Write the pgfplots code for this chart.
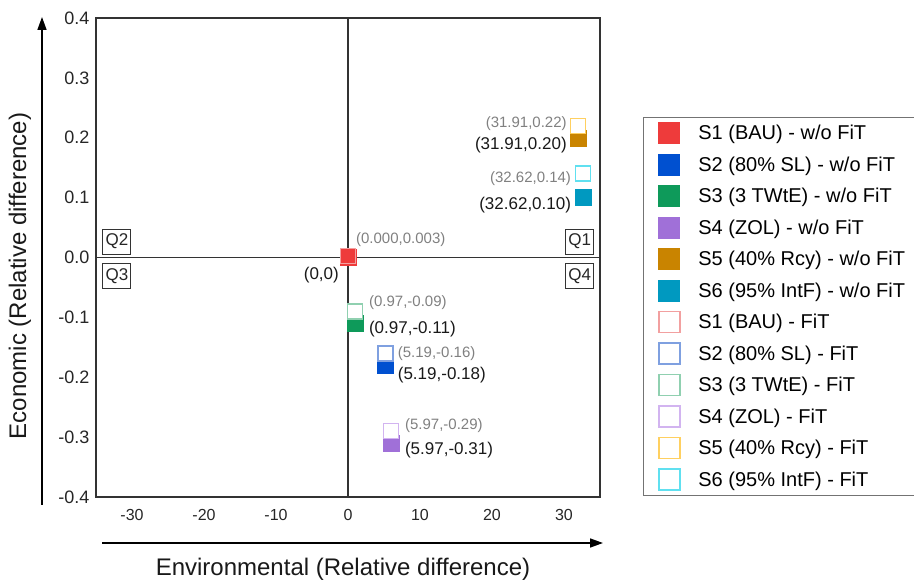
\documentclass[border=0pt]{standalone}
\usepackage{fontspec}
\setmainfont{Liberation Sans}
\usepackage{pgfplots}
\pgfplotsset{compat=1.18}
\usetikzlibrary{arrows.meta}
\definecolor{s1}{HTML}{EE3B3B}\definecolor{s1l}{HTML}{F2A0A0}
\definecolor{s2}{HTML}{0050D0}\definecolor{s2l}{HTML}{7FA0E0}
\definecolor{s3}{HTML}{0E9A5A}\definecolor{s3l}{HTML}{90D0B0}
\definecolor{s4}{HTML}{A070D8}\definecolor{s4l}{HTML}{D2B4F0}
\definecolor{s5}{HTML}{C98400}\definecolor{s5l}{HTML}{FFD060}
\definecolor{s6}{HTML}{0099C0}\definecolor{s6l}{HTML}{60E0F0}
\newcommand{\lgd}[1]{\makebox[260pt][l]{#1}}
\pgfplotsset{
  full/.style={only marks, mark=square*, mark size=8pt, color=#1, mark options={draw=#1, fill=#1}},
  open/.style={only marks, mark=square*, mark size=7.5pt, color=#1, mark options={draw=#1, fill=white, line width=1.4pt}},
}
\begin{document}
\begin{tikzpicture}[x=1pt,y=1pt]
\useasboundingbox (0,0) rectangle (914,579);
\begin{axis}[at={(96pt,82pt)}, anchor=south west, scale only axis,
  width=504pt, height=479pt,
  xmin=-35, xmax=35, ymin=-0.4, ymax=0.4,
  xtick={-30,-20,-10,0,10,20,30},
  ytick={-0.4,-0.3,-0.2,-0.1,0,0.1,0.2,0.3,0.4},
  yticklabel style={/pgf/number format/fixed, /pgf/number format/fixed zerofill, /pgf/number format/precision=1, xshift=-3pt, font=\fontsize{18}{20}\selectfont},
  /pgf/number format/assume math mode=true,
  major tick length=0pt,
  axis line style={line width=1.3pt, draw=black!80},
  tick label style={text=black!85},
  xticklabel style={yshift=-9pt, font=\fontsize{16}{18}\selectfont},
  legend cell align=left,
  legend style={at={(1.0853,0.7933)}, anchor=north west, draw=black!55, line width=0.8pt,
    font=\fontsize{20}{22}\selectfont, row sep=0pt, column sep=0pt, inner xsep=0pt, inner ysep=0pt,
    nodes={inner sep=0pt, minimum height=31.5pt}},
  legend image code/.code={\path[draw=none, fill=none] (0pt,-10pt) rectangle (55pt,10pt);\draw[#1, mark size=10.5pt] plot coordinates {(26pt,0pt)};},
  clip=false,
]
\draw[line width=1.3pt, black!80] (axis cs:0,-0.4) -- (axis cs:0,0.4);
\draw[line width=1.3pt, black!80] (axis cs:-35,0) -- (axis cs:35,0);
% w/o FiT
\addplot[full=s1] coordinates {(0,0)};
\addlegendentry{\lgd{S1 (BAU) - w/o FiT}}
\addplot[full=s2] coordinates {(5.19,-0.18)};
\addlegendentry{\lgd{S2 (80\% SL) - w/o FiT}}
\addplot[full=s3] coordinates {(0.97,-0.11)};
\addlegendentry{\lgd{S3 (3 TWtE) - w/o FiT}}
\addplot[full=s4] coordinates {(5.97,-0.31)};
\addlegendentry{\lgd{S4 (ZOL) - w/o FiT}}
\addplot[full=s5] coordinates {(31.91,0.20)};
\addlegendentry{\lgd{S5 (40\% Rcy) - w/o FiT}}
\addplot[full=s6] coordinates {(32.62,0.10)};
\addlegendentry{\lgd{S6 (95\% IntF) - w/o FiT}}
% FiT
\addplot[only marks, mark=square, mark size=7.5pt, color=s1l, mark options={draw=s1l, line width=1.4pt}] coordinates {(0,0.003)};
\addlegendentry{\lgd{S1 (BAU) - FiT}}
\addplot[open=s2l] coordinates {(5.19,-0.16)};
\addlegendentry{\lgd{S2 (80\% SL) - FiT}}
\addplot[open=s3l] coordinates {(0.97,-0.09)};
\addlegendentry{\lgd{S3 (3 TWtE) - FiT}}
\addplot[open=s4l] coordinates {(5.97,-0.29)};
\addlegendentry{\lgd{S4 (ZOL) - FiT}}
\addplot[open=s5l] coordinates {(31.91,0.22)};
\addlegendentry{\lgd{S5 (40\% Rcy) - FiT}}
\addplot[open=s6l] coordinates {(32.62,0.14)};
\addlegendentry{\lgd{S6 (95\% IntF) - FiT}}
% quadrant labels
\begin{scope}[every node/.style={draw=black!80, line width=0.9pt, font=\fontsize{17}{19}\selectfont, inner sep=0pt, minimum width=28pt, minimum height=25pt, text=black!85}]
\node at (axis cs:-32.1,0.0267) {Q2};
\node at (axis cs:-32.1,-0.031) {Q3};
\node at (axis cs:32.2,0.0267) {Q1};
\node at (axis cs:32.2,-0.031) {Q4};
\end{scope}
% data labels
\begin{scope}[every node/.style={font=\fontsize{15}{17}\selectfont, text=black!50, inner sep=0pt}]
\node[anchor=west] at (axis cs:1.1,0.030) {(0.000,0.003)};
\node[anchor=west] at (axis cs:2.9,-0.075) {(0.97,-0.09)};
\node[anchor=west] at (axis cs:6.9,-0.161) {(5.19,-0.16)};
\node[anchor=west] at (axis cs:7.9,-0.281) {(5.97,-0.29)};
\node[anchor=east] at (axis cs:30.4,0.224) {(31.91,0.22)};
\node[anchor=east] at (axis cs:31.0,0.132) {(32.62,0.14)};
\end{scope}
\begin{scope}[every node/.style={font=\fontsize{17}{19}\selectfont, text=black!90, inner sep=0pt}]
\node[anchor=east] at (axis cs:-1.25,-0.030) {(0,0)};
\node[anchor=west] at (axis cs:2.9,-0.119) {(0.97,-0.11)};
\node[anchor=west] at (axis cs:6.9,-0.197) {(5.19,-0.18)};
\node[anchor=west] at (axis cs:7.9,-0.322) {(5.97,-0.31)};
\node[anchor=east] at (axis cs:30.4,0.187) {(31.91,0.20)};
\node[anchor=east] at (axis cs:31.0,0.087) {(32.62,0.10)};
\end{scope}
\end{axis}
\draw[line width=1.6pt, -{Triangle[length=13pt,width=9pt]}] (42,74) -- (42,562);
\draw[line width=1.6pt, -{Triangle[length=13pt,width=9pt]}] (102,36) -- (603,36);
\node[rotate=90, font=\fontsize{24}{26}\selectfont, text=black!90] at (20,303) {Economic (Relative difference)};
\node[font=\fontsize{24}{26}\selectfont, text=black!90] at (343,10) {Environmental (Relative difference)};
\end{tikzpicture}
\end{document}
